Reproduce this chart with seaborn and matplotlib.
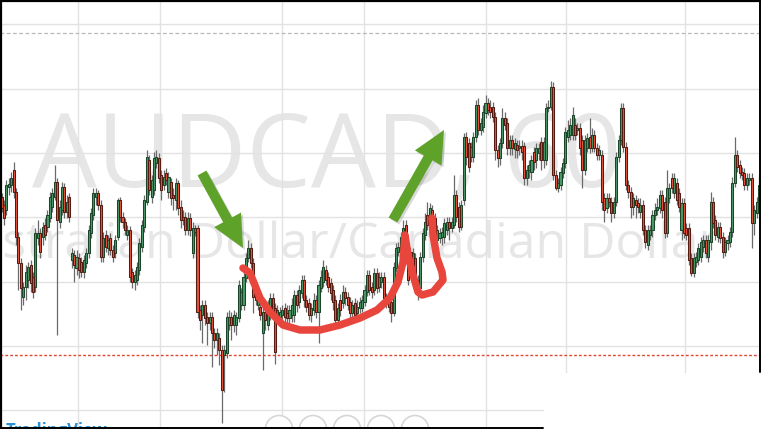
import numpy as np
import pandas as pd
import matplotlib.pyplot as plt
import seaborn as sns
from matplotlib.patches import Rectangle, Ellipse

# candle levels, in pixel rows from the top (y axis is inverted)
opens = [197, 205, 210, 187, 185, 170, 192, 237, 263, 297,
         287, 280, 265, 277, 287, 238, 233, 237, 225, 227,
         218, 207, 197, 182, 222, 210, 187, 212, 197, 260,
         255, 268, 258, 262, 272, 263, 253, 233, 215, 197,
         193, 205, 257, 235, 248, 238, 250, 253, 237, 200,
         217, 222, 235, 230, 272, 282, 280, 270, 247, 227,
         202, 160, 197, 190, 163, 158, 175, 185, 173, 192,
         182, 195, 200, 183, 207, 220, 217, 230, 218, 253,
         232, 228, 310, 315, 305, 317, 323, 317, 333, 340,
         338, 350, 355, 353, 325, 317, 325, 325, 318, 305,
         305, 278, 258, 248, 263, 292, 305, 307, 333, 312,
         325, 315, 298, 308, 315, 317, 315, 308, 313, 318,
         315, 315, 295, 302, 293, 280, 300, 303, 315, 310,
         300, 312, 288, 282, 270, 277, 283, 290, 300, 320,
         300, 303, 292, 297, 302, 313, 303, 313, 308, 308,
         302, 292, 275, 287, 290, 273, 287, 282, 277, 298,
         300, 302, 313, 268, 252, 250, 248, 225, 248, 252,
         270, 258, 280, 288, 257, 235, 215, 227, 210, 218,
         240, 238, 237, 237, 230, 222, 228, 225, 195, 207,
         227, 200, 137, 143, 157, 157, 137, 105, 130, 127,
         113, 103, 107, 107, 117, 150, 158, 143, 118, 123,
         148, 140, 149, 145, 148, 146, 146, 178, 170, 172,
         152, 160, 153, 142, 160, 160, 108, 107, 87, 175,
         188, 185, 173, 163, 137, 135, 135, 125, 130, 128,
         140, 170, 148, 137, 148, 135, 148, 155, 155, 198,
         208, 198, 202, 213, 202, 157, 140, 108, 147, 185,
         192, 207, 200, 203, 212, 205, 230, 245, 235, 230,
         215, 210, 208, 195, 202, 233, 198, 178, 193, 183,
         193, 230, 203, 228, 228, 258, 273, 262, 260, 257,
         247, 240, 257, 242, 202, 220, 237, 227, 237, 252,
         243, 242, 232, 183, 155, 165, 172, 173, 185, 180,
         178, 223, 213, 202]
closes = [208, 218, 185, 184, 178, 192, 237, 263, 288, 287,
          272, 267, 283, 292, 233, 233, 252, 227, 235, 215,
          197, 193, 182, 220, 207, 187, 212, 202, 217, 253,
          265, 257, 270, 272, 260, 253, 230, 213, 193, 193,
          205, 257, 238, 247, 240, 250, 257, 240, 200, 217,
          222, 230, 230, 277, 282, 275, 267, 243, 225, 200,
          157, 190, 180, 158, 157, 178, 190, 177, 180, 177,
          198, 198, 183, 208, 220, 217, 230, 218, 230, 228,
          228, 312, 320, 305, 318, 323, 317, 333, 340, 333,
          350, 390, 350, 317, 317, 325, 315, 317, 285, 292,
          277, 258, 248, 263, 297, 300, 298, 315, 312, 320,
          305, 298, 312, 352, 310, 312, 310, 317, 318, 310,
          305, 295, 305, 290, 280, 300, 307, 315, 308, 300,
          312, 285, 277, 267, 280, 287, 293, 302, 320, 308,
          310, 292, 298, 305, 313, 305, 315, 307, 302, 300,
          290, 275, 290, 292, 273, 288, 277, 277, 298, 302,
          307, 313, 267, 248, 247, 237, 228, 255, 280, 263,
          253, 280, 287, 257, 233, 222, 225, 208, 220, 235,
          230, 233, 232, 223, 222, 228, 222, 195, 217, 227,
          205, 137, 157, 167, 147, 137, 105, 130, 123, 112,
          103, 110, 112, 117, 150, 158, 143, 118, 125, 148,
          140, 148, 143, 150, 146, 152, 178, 170, 165, 160,
          162, 148, 148, 160, 142, 108, 107, 87, 175, 188,
          183, 172, 163, 132, 130, 125, 115, 135, 128, 148,
          170, 140, 138, 148, 135, 148, 155, 150, 202, 210,
          198, 202, 213, 202, 157, 140, 108, 147, 185, 192,
          207, 198, 205, 207, 205, 230, 242, 230, 230, 215,
          210, 207, 195, 210, 233, 188, 188, 188, 178, 200,
          207, 203, 233, 235, 260, 273, 258, 257, 248, 242,
          240, 253, 240, 202, 223, 235, 227, 238, 252, 242,
          240, 232, 183, 155, 167, 173, 175, 185, 178, 178,
          223, 210, 202, 185]
highs = [193, 200, 180, 178, 172, 162, 188, 232, 258, 282,
         265, 262, 260, 272, 228, 220, 228, 222, 218, 210,
         192, 188, 165, 178, 200, 182, 183, 195, 193, 248,
         250, 250, 253, 257, 255, 248, 225, 208, 188, 188,
         190, 200, 232, 230, 235, 233, 245, 235, 198, 197,
         212, 218, 225, 226, 268, 270, 262, 238, 220, 195,
         150, 155, 175, 152, 150, 153, 170, 170, 168, 172,
         178, 188, 178, 180, 200, 210, 212, 212, 213, 222,
         225, 225, 305, 300, 300, 312, 312, 312, 328, 328,
         333, 345, 345, 312, 310, 312, 310, 312, 280, 288,
         272, 253, 240, 243, 258, 287, 293, 300, 305, 305,
         300, 293, 293, 303, 305, 307, 305, 303, 305, 305,
         298, 290, 290, 285, 275, 275, 295, 298, 303, 293,
         295, 280, 270, 260, 265, 272, 278, 285, 295, 303,
         294, 285, 287, 292, 297, 300, 298, 300, 297, 295,
         285, 270, 270, 282, 268, 268, 272, 272, 272, 293,
         295, 297, 262, 243, 242, 232, 220, 220, 243, 247,
         248, 253, 275, 252, 228, 213, 202, 203, 205, 213,
         225, 228, 227, 218, 217, 217, 217, 175, 190, 202,
         200, 133, 132, 138, 142, 132, 100, 98, 118, 105,
         95, 98, 100, 102, 112, 145, 138, 108, 112, 118,
         135, 135, 138, 140, 140, 140, 142, 165, 160, 155,
         147, 143, 143, 137, 137, 103, 100, 81, 82, 170,
         178, 167, 158, 127, 120, 118, 107, 118, 123, 123,
         135, 135, 133, 118, 128, 130, 143, 145, 150, 193,
         193, 193, 197, 197, 152, 135, 103, 103, 142, 180,
         187, 193, 195, 198, 198, 200, 225, 225, 225, 210,
         203, 198, 190, 190, 197, 170, 183, 173, 173, 178,
         188, 198, 198, 223, 223, 253, 253, 252, 243, 237,
         235, 235, 235, 192, 197, 215, 222, 222, 232, 237,
         235, 227, 177, 137, 150, 160, 167, 168, 173, 173,
         173, 205, 197, 175]
lows = [212, 225, 215, 195, 192, 198, 245, 290, 310, 305,
        300, 288, 292, 298, 292, 245, 258, 245, 240, 232,
        222, 212, 200, 335, 228, 215, 218, 218, 222, 268,
        282, 275, 278, 277, 278, 268, 258, 238, 220, 205,
        210, 262, 262, 252, 255, 255, 262, 258, 240, 222,
        228, 235, 240, 282, 288, 290, 285, 275, 252, 232,
        205, 195, 203, 195, 168, 183, 200, 190, 185, 198,
        205, 210, 210, 215, 228, 225, 235, 235, 236, 258,
        236, 318, 330, 343, 325, 345, 330, 367, 348, 355,
        365, 423, 392, 358, 330, 340, 332, 335, 322, 310,
        310, 282, 262, 268, 313, 305, 310, 320, 370, 330,
        330, 320, 318, 364, 322, 322, 320, 328, 325, 325,
        322, 322, 312, 308, 298, 307, 312, 320, 322, 315,
        318, 343, 292, 287, 285, 292, 300, 310, 325, 325,
        316, 308, 305, 310, 320, 318, 320, 318, 313, 312,
        306, 296, 295, 298, 295, 293, 292, 288, 303, 308,
        312, 322, 316, 272, 256, 254, 252, 260, 285, 270,
        275, 285, 300, 292, 262, 240, 230, 232, 225, 245,
        248, 243, 245, 243, 235, 240, 232, 228, 222, 232,
        230, 205, 165, 172, 162, 162, 142, 135, 135, 132,
        118, 115, 118, 122, 160, 167, 165, 148, 130, 155,
        155, 155, 158, 158, 155, 160, 185, 185, 178, 180,
        170, 168, 160, 170, 168, 165, 112, 110, 180, 190,
        192, 190, 178, 168, 142, 140, 140, 140, 135, 155,
        188, 175, 152, 153, 152, 152, 160, 160, 210, 222,
        213, 207, 222, 218, 206, 162, 145, 152, 190, 198,
        218, 215, 218, 213, 218, 235, 248, 250, 240, 237,
        220, 215, 213, 218, 238, 237, 203, 193, 198, 205,
        212, 240, 238, 240, 265, 276, 277, 267, 265, 262,
        252, 258, 262, 250, 228, 240, 242, 243, 258, 256,
        250, 247, 237, 187, 172, 178, 180, 190, 190, 185,
        248, 235, 218, 207]

# hand-drawn red stroke and green arrows (screen pixels)
stroke_x = [243, 250, 260, 270, 283, 300, 320, 340, 360, 377, 390, 398, 403, 405,
            408, 413, 418, 422, 433, 443, 442, 437, 433, 432]
stroke_y = [268, 273, 298, 312, 325, 330, 330, 325, 318, 310, 298, 282, 262, 235,
            255, 275, 292, 295, 292, 280, 272, 258, 235, 218]
arrow_down = [(202, 173), (243, 248)]
arrow_up = [(393, 220), (444, 130)]

PITCH = 2.42
def px(x):
    return x / PITCH - 0.62

sns.set_style("white")
plt.rcParams['font.family'] = ['Open Sans', 'DejaVu Sans']

fig = plt.figure(figsize=(7.61, 4.29), dpi=100)
ax = fig.add_axes([0, 0, 1, 1])

# watermark
ax.text(px(327), 187, 'AUDCAD, 60', fontsize=74, color='#e6e6e6', ha='center', va='baseline', zorder=0.5)
ax.text(px(330), 258, 'Australian Dollar/Canadian Dollar', fontsize=36, color='#e6e6e6',
        ha='center', va='baseline', zorder=0.5)

# grid
for gy in [24, 89, 153, 217, 282, 346, 410]:
    ax.axhline(gy, color='#e2e2e2', lw=1, zorder=1)
for gx in [78, 160, 282, 364, 486, 566, 685]:
    ax.axvline(px(gx), color='#e2e2e2', lw=1, zorder=1)
ax.axhline(33, color='#b8b8b8', lw=0.9, ls=(0, (3, 2)), zorder=1.2)
ax.axhline(355, color='#e0452f', lw=1, ls=(0, (2, 1.5)), zorder=1.2)

# candles
df = pd.DataFrame({'open': opens, 'close': closes, 'high': highs, 'low': lows})
df['x'] = np.arange(len(df))
df['up'] = df['close'] < df['open']
body = df['close'] - df['open']
body = body.where(body.abs() >= 1, np.sign(body.replace(0, 1)))

ax.vlines(df['x'], df['high'], df['low'], colors='#6a6a6a', lw=0.9, zorder=2)
for is_up, fill, edge in [(True, '#4a9868', '#1b4529'), (False, '#e5533d', '#561a10')]:
    m = df['up'] == is_up
    ax.bar(df['x'][m], body[m], bottom=df['open'][m], width=0.85, color=fill,
           edgecolor=edge, linewidth=0.75, zorder=3)

# annotations
stroke = pd.DataFrame({'x': [px(v) for v in stroke_x], 'y': stroke_y})
sns.lineplot(data=stroke, x='x', y='y', sort=False, estimator=None, color='#e8463c',
             lw=5.4, solid_capstyle='round', solid_joinstyle='round', ax=ax, zorder=5)

style = 'simple,head_length=1.05,head_width=1.0,tail_width=0.33'
for (tx, ty), (hx, hy) in [arrow_down, arrow_up]:
    ax.annotate('', xy=(px(hx + 2), hy + 2), xytext=(px(tx + 2), ty + 2),
                arrowprops=dict(arrowstyle=style, mutation_scale=22, fc='#000000', ec='none',
                                alpha=0.15, shrinkA=0, shrinkB=0), zorder=5)
    ax.annotate('', xy=(px(hx), hy), xytext=(px(tx), ty),
                arrowprops=dict(arrowstyle=style, mutation_scale=22, fc='#5fa22a', ec='none',
                                shrinkA=0, shrinkB=0, capstyle='round'), zorder=6)

# frame of the screenshot
ax.add_patch(Rectangle((px(543.5), 372.5), px(761) - px(543.5) + 5, 60, fc='white', ec='none', zorder=1.5))
ax.plot([px(0.8), px(0.8)], [0, 429], color='black', lw=1.6, zorder=7)
ax.plot([px(0), px(761)], [0.6, 0.6], color='black', lw=1.6, zorder=7)
ax.plot([px(760.2), px(760.2)], [0, 372], color='black', lw=1.4, zorder=7)
ax.plot([px(0), px(543)], [428.3, 428.3], color='black', lw=1.4, zorder=7)

for cx in [279, 313, 347, 381, 415]:
    ax.add_patch(Ellipse((px(cx), 429), 27 / PITCH, 27, fill=True, fc='white', ec='#d6d6d6', lw=1.2, zorder=6))
ax.text(px(6), 421.5, 'TradingView', fontsize=12, fontweight='bold', color='#2a93d5', va='top', ha='left', zorder=6)

ax.set_xlim(px(0), px(761))
ax.set_ylim(429, 0)
ax.axis('off')

fig.savefig('out.png', dpi=100)
